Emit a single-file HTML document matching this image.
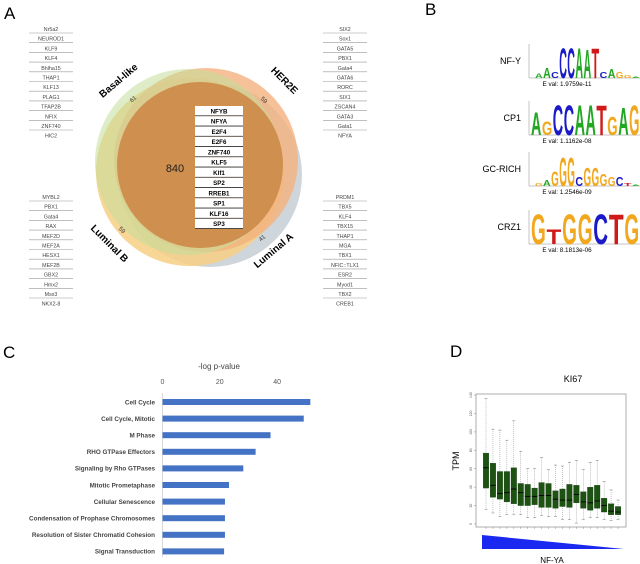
<!DOCTYPE html>
<html><head><meta charset="utf-8"><style>
body{margin:0;background:#fff;}
svg{display:block;font-family:"Liberation Sans",sans-serif;}
</style></head><body>
<svg id="fig" width="640" height="564" viewBox="0 0 640 564">
<rect width="640" height="564" fill="#fff"/>
<g id="pA">
<text x="4" y="19" font-size="17">A</text>
<circle cx="210" cy="175" r="92" fill="#c3ccd2" opacity="0.8"/>
<circle cx="190" cy="172" r="94" fill="#f7cf84" opacity="0.85"/>
<circle cx="206" cy="160" r="92" fill="#f4b27e" opacity="0.8"/>
<circle cx="188" cy="162" r="93" fill="#c2df9a" opacity="0.55"/>
<circle cx="200" cy="165" r="83" fill="#cf8f4e"/>
<text x="175" y="172" font-size="11" text-anchor="middle" fill="#222">840</text>
<text x="133" y="101" font-size="6" transform="rotate(-40 133 99)" text-anchor="middle" fill="#333">61</text>
<text x="264" y="102" font-size="6" transform="rotate(45 264 100)" text-anchor="middle" fill="#333">59</text>
<text x="122" y="232" font-size="6" transform="rotate(45 122 230)" text-anchor="middle" fill="#333">59</text>
<text x="262" y="240" font-size="6" transform="rotate(-40 262 238)" text-anchor="middle" fill="#333">41</text>
<text x="118" y="84" font-size="10" font-weight="bold" transform="rotate(-40 118 80)" text-anchor="middle">Basal-like</text>
<text x="285" y="84" font-size="10" font-weight="bold" transform="rotate(45 285 80)" text-anchor="middle">HER2E</text>
<text x="110" y="247" font-size="10" font-weight="bold" transform="rotate(45 110 243)" text-anchor="middle">Luminal B</text>
<text x="273" y="254" font-size="10" font-weight="bold" transform="rotate(-40 273 250)" text-anchor="middle">Luminal A</text>
<g id="coreTable"></g>
<g id="lists"></g>
</g>
<g id="pB">
<text x="425" y="15" font-size="17">B</text>
</g>
<g id="pC">
<text x="3" y="358" font-size="17">C</text>
<text x="219" y="369" font-size="8" text-anchor="middle" fill="#444">-log p-value</text>
<line x1="162.5" y1="393" x2="162.5" y2="557" stroke="#d8d8d8" stroke-width="1"/>
</g>
<g id="pD">
<text x="450" y="357" font-size="17">D</text>
<text x="573" y="382" font-size="9" text-anchor="middle">KI67</text>
<text x="0" y="0" font-size="9" text-anchor="middle" transform="translate(459,461) rotate(-90)">TPM</text>
<rect x="476" y="394" width="150" height="133" fill="none" stroke="#999" stroke-width="0.8"/>
<polygon points="482,535 482,549 624,549" fill="#1a28f0"/>
<text x="552" y="563" font-size="8" text-anchor="middle">NF-YA</text>
</g>
</svg>
<script>
const NS="http://www.w3.org/2000/svg";
function el(tag,attrs,parent,text){const e=document.createElementNS(NS,tag);for(const k in attrs)e.setAttribute(k,attrs[k]);if(text!==undefined)e.textContent=text;parent.appendChild(e);return e;}
// Panel A lists
const coreTFs=["NFYB","NFYA","E2F4","E2F6","ZNF740","KLF5","Klf1","SP2","RREB1","SP1","KLF16","SP3"];
const basalTFs=["Nr5a2","NEUROD1","KLF9","KLF4","Bhlha15","THAP1","KLF13","PLAG1","TFAP2B","NFIX","ZNF740","HIC2"];
const her2TFs=["SIX2","Sox1","GATA5","PBX1","Gata4","GATA6","RORC","SIX1","ZSCAN4","GATA3","Gata1","NFYA"];
const lumBTFs=["MYBL2","PBX1","Gata4","RAX","MEF2D","MEF2A","HESX1","MEF2B","GBX2","Hmx2","Msx3","NKX2-8"];
const lumATFs=["PRDM1","TBX5","KLF4","TBX15","THAP1","MGA","TBX1","NFIC::TLX1","ESR2","Myod1","TBX2","CREB1"];
const ct=document.getElementById('coreTable');
coreTFs.forEach((t,i)=>{const y=106+i*10.25;
 const r=el('rect',{x:195,y:y,width:48,height:9.5,fill:'#fff'},ct);
 
 
 el('line',{x1:195,x2:243,y1:y+9.8,y2:y+9.8,stroke:'#333','stroke-width':0.8},ct);
 el('text',{x:219,y:y+7.3,'font-size':6.2,'font-weight':'bold','text-anchor':'middle'},ct,t);});
const lg=document.getElementById('lists');
function list(arr,cx,y0,name){const g=el('g',{},lg);
 
 
 arr.forEach((t,i)=>{const y=y0+i*9.7;el('text',{x:cx,y:y+2,'font-size':5.3,'text-anchor':'middle',fill:'#444'},g,t);
 if(i<arr.length-1)el('line',{x1:cx-22,x2:cx+22,y1:y+4,y2:y+4,stroke:'#999','stroke-width':0.6},g);});}
list(basalTFs,51,29,'basal-like-tf-list');list(her2TFs,345,29,'her2e-tf-list');
list(lumBTFs,51,197,'luminal-b-tf-list');list(lumATFs,345,197,'luminal-a-tf-list');
// Panel B motif logos
const pB=document.getElementById('pB');
const COL={A:'#22a722',C:'#1a1ac8',G:'#f2a81e',T:'#d01a1a'};
const motifNames=["NF-Y","CP1","GC-RICH","CRZ1"];
const motifEvals=["E val: 1.9759e-11","E val: 1.1162e-08","E val: 1.2546e-09","E val: 8.1813e-06"];
const motifLetters=[
 [["A",0.15],["A",0.35],["C",0.2],["C",1.0],["C",1.0],["A",1.0],["A",0.95],["T",1.0],["C",0.2],["A",0.3],["G",0.2],["G",0.1],["A",0.05]],
 [["A",0.75],["G",0.45],["C",1.0],["C",1.0],["A",1.0],["A",1.0],["T",1.0],["G",0.6],["A",0.9],["G",1.0]],
 [["G",0.1],["A",0.2],["G",0.5],["G",0.95],["G",0.95],["C",0.3],["G",0.6],["G",0.6],["G",0.4],["G",0.3],["C",0.3],["T",0.1],["A",0.05]],
 [["G",1.0],["T",0.5],["G",1.0],["G",1.0],["C",1.0],["T",1.0],["G",1.0]]];
const logoTop=[44,101,152,210];
motifNames.forEach((n,m)=>{const top=logoTop[m],base=top+34;
 const g=el('g',{},pB);
 
 
 el('text',{x:521,y:top+20,'font-size':9,'text-anchor':'end'},g,n);
 el('line',{x1:529,x2:529,y1:top,y2:base,stroke:'#888','stroke-width':0.5},g);
 el('line',{x1:529,x2:640,y1:base,y2:base,stroke:'#888','stroke-width':0.5},g);
 const L=motifLetters[m];const x0=(m===0||m===2)?535:531;const w=(640-x0)/L.length;
 L.forEach((p,i)=>{const h=p[1]*31;if(h<1)return;const fs=h/0.72;
  el('text',{x:x0+i*w,y:base,'font-size':fs,'font-weight':'bold',fill:COL[p[0]],textLength:w*0.95,lengthAdjust:'spacingAndGlyphs'},g,p[0]);});
 el('text',{x:567,y:base+8,'font-size':6.3,'text-anchor':'middle'},g,motifEvals[m]);});
// Panel C bar chart
const pathways=["Cell Cycle","Cell Cycle, Mitotic","M Phase","RHO GTPase Effectors","Signaling by Rho GTPases","Mitotic Prometaphase","Cellular Senescence","Condensation of Prophase Chromosomes","Resolution of Sister Chromatid Cohesion","Signal Transduction"];
const pvals=[51.6,49.3,37.7,32.5,28.2,23.2,21.8,21.8,21.8,21.5];
const cTicks=[0,20,40];
const pC=document.getElementById('pC');
const cx=v=>162.5+v*2.865;
cTicks.forEach(t=>{const tx=el('text',{x:cx(t),y:384,'font-size':7,'text-anchor':'middle',fill:'#555'},pC,String(t));
 
 });
pathways.forEach((p,i)=>{const y=402+i*16.6;
 const b=el('rect',{x:cx(0),y:y-3,width:cx(pvals[i])-cx(0),height:6,fill:'#4472c4'},pC);
 
 
 const t=el('text',{x:155,y:y+2.3,'font-size':6.3,'font-weight':'bold','text-anchor':'end',fill:'#444'},pC,p);
 
 });
// Panel D boxplot
const q3=[77,66,57,57,61,44,43,39,45,44,36,38,43,42,35,40,42,28,22,19];
const med=[61,42,33,34,38,34,30,30,31,31,27,26,26,32,24,23,25,20,14,13];
const q1=[39,29,27,24,22,20,20,21,18,18,17,19,18,23,17,15,17,13,10,10];
const whiHi=[136,103,102,91,112,79,60,60,72,59,64,63,67,69,59,67,69,46,37,26];
const whiLo=[16,12,8,10,10,10,7,7,9,8,8,5,5,1,5,7,7,5,4,5];
const dTicks=[0,20,40,60,80,100,120,140];
const pD=document.getElementById('pD');
const dy=v=>524-v*0.921;
const dx=i=>486+i*6.95;
dTicks.forEach(t=>{const g=el('text',{'font-size':3.5,'text-anchor':'middle',fill:'#555',transform:`translate(472,${dy(t)}) rotate(-90)`},pD,String(t));
 
 
 el('line',{x1:474,x2:476,y1:dy(t),y2:dy(t),stroke:'#777','stroke-width':0.4},pD);});
q3.forEach((v,i)=>{const x=dx(i);
 el('line',{x1:x,x2:x,y1:dy(whiHi[i]),y2:dy(whiLo[i]),stroke:'#888','stroke-width':0.5,'stroke-dasharray':'1,1'},pD);
 el('line',{x1:x-1.5,x2:x+1.5,y1:dy(whiHi[i]),y2:dy(whiHi[i]),stroke:'#777','stroke-width':0.5},pD);
 el('line',{x1:x-1.5,x2:x+1.5,y1:dy(whiLo[i]),y2:dy(whiLo[i]),stroke:'#777','stroke-width':0.5},pD);
 const b=el('rect',{x:x-2.8,y:dy(v),width:5.6,height:dy(q1[i])-dy(v),fill:'#1d5213',stroke:'#0f3a0a','stroke-width':0.3},pD);
 
 
 el('line',{x1:x-2.8,x2:x+2.8,y1:dy(med[i]),y2:dy(med[i]),stroke:'#000','stroke-width':0.9},pD);
 el('line',{x1:x,x2:x,y1:527,y2:529,stroke:'#777','stroke-width':0.4},pD);});
</script>
</body></html>
